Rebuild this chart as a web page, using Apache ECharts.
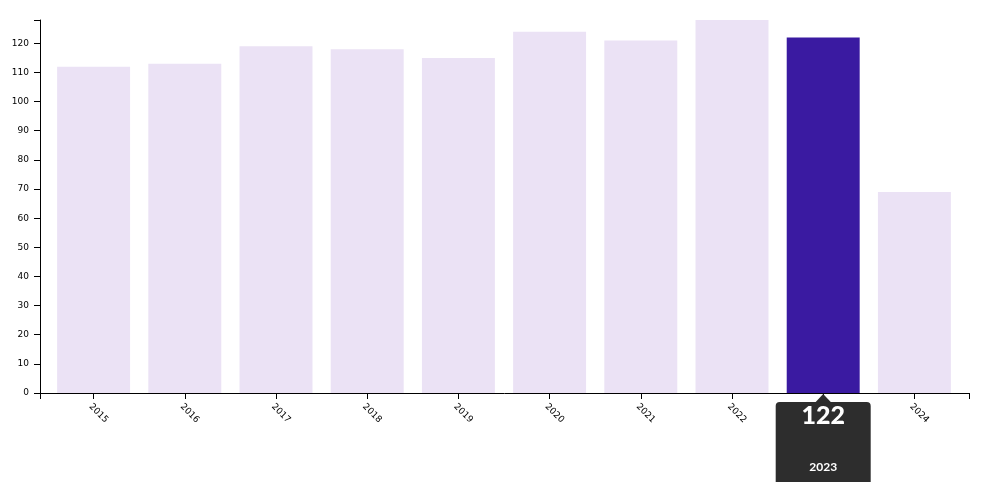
<!DOCTYPE html>
<html>
<head>
<meta charset="utf-8">
<script src="https://cdn.jsdelivr.net/npm/echarts@6/dist/echarts.min.js"></script>
<style>
html,body{margin:0;padding:0;background:#fff;}
#chart{width:992px;height:482px;}
</style>
</head>
<body>
<div id="chart"></div>
<script>
const years = ['2015','2016','2017','2018','2019','2020','2021','2022','2023','2024'];
const values = [112, 113, 119, 118, 115, 124, 121, 128, 122, 69];
const highlightYear = '2023';
const yMax = 128;

const chart = echarts.init(document.getElementById('chart'));
const hiIdx = years.indexOf(highlightYear);
const labelFont = {fontFamily: 'DejaVu Sans', fontSize: 9, color: '#000'};

chart.setOption({
  animation: false,
  grid: [
    {left: 40, right: 23, top: 20, bottom: 89},
    {left: 48, right: 32, top: 20, bottom: 89}
  ],
  xAxis: [
    {type: 'value', gridIndex: 0, min: 0, max: 1, interval: 1,
     axisLine: {show: true, lineStyle: {color: '#000', width: 1}},
     axisTick: {show: true, length: 6, lineStyle: {color: '#000'}},
     axisLabel: {show: false}, splitLine: {show: false}},
    {type: 'category', gridIndex: 1, data: years,
     axisLine: {show: false},
     axisTick: {show: true, alignWithLabel: true, length: 6, lineStyle: {color: '#000'}},
     axisLabel: Object.assign({rotate: -45, margin: 9, interval: 0, verticalAlign: 'top',
       formatter: v => v === highlightYear ? '' : v}, labelFont)}
  ],
  yAxis: [
    {type: 'value', gridIndex: 0, min: 0, max: yMax, interval: 10,
     axisLine: {show: true, lineStyle: {color: '#000', width: 1}},
     axisTick: {show: true, length: 6, lineStyle: {color: '#000'}},
     splitLine: {show: false},
     axisLabel: Object.assign({margin: 11, formatter: v => (v % 10 === 0 ? String(v) : '')}, labelFont)},
    {type: 'value', gridIndex: 1, min: 0, max: yMax, show: false, splitLine: {show: false}}
  ],
  series: [{
    type: 'bar', xAxisIndex: 1, yAxisIndex: 1,
    barCategoryGap: '20%',
    data: values.map((v, i) => ({value: v, itemStyle: {color: i === hiIdx ? '#3a1aa1' : '#ebe2f5'}}))
  }]
});

const base = chart.convertToPixel({xAxisIndex: 1, yAxisIndex: 1}, [highlightYear, 0]);
const cx = base[0], by = base[1];
const boxW = 95, boxTop = by + 9, boxH = 90;
chart.setOption({
  graphic: [
    {type: 'rect', z: 100, shape: {x: cx - boxW / 2, y: boxTop, width: boxW, height: boxH, r: [4, 4, 0, 0]},
     style: {fill: '#2d2d2d'}},
    {type: 'polygon', z: 100, shape: {points: [[cx - 8, boxTop + 0.5], [cx, by + 1], [cx + 8, boxTop + 0.5]]},
     style: {fill: '#2d2d2d'}},
    {type: 'text', z: 101, x: cx, y: boxTop + 14,
     style: {text: String(values[hiIdx]), fill: '#fff', font: '900 25px Lato', align: 'center', verticalAlign: 'middle'}},
    {type: 'text', z: 101, x: cx, y: boxTop + 65,
     style: {text: highlightYear, fill: '#fff', font: 'bold 12px Lato', align: 'center', verticalAlign: 'middle'}}
  ]
});
</script>
</body>
</html>
